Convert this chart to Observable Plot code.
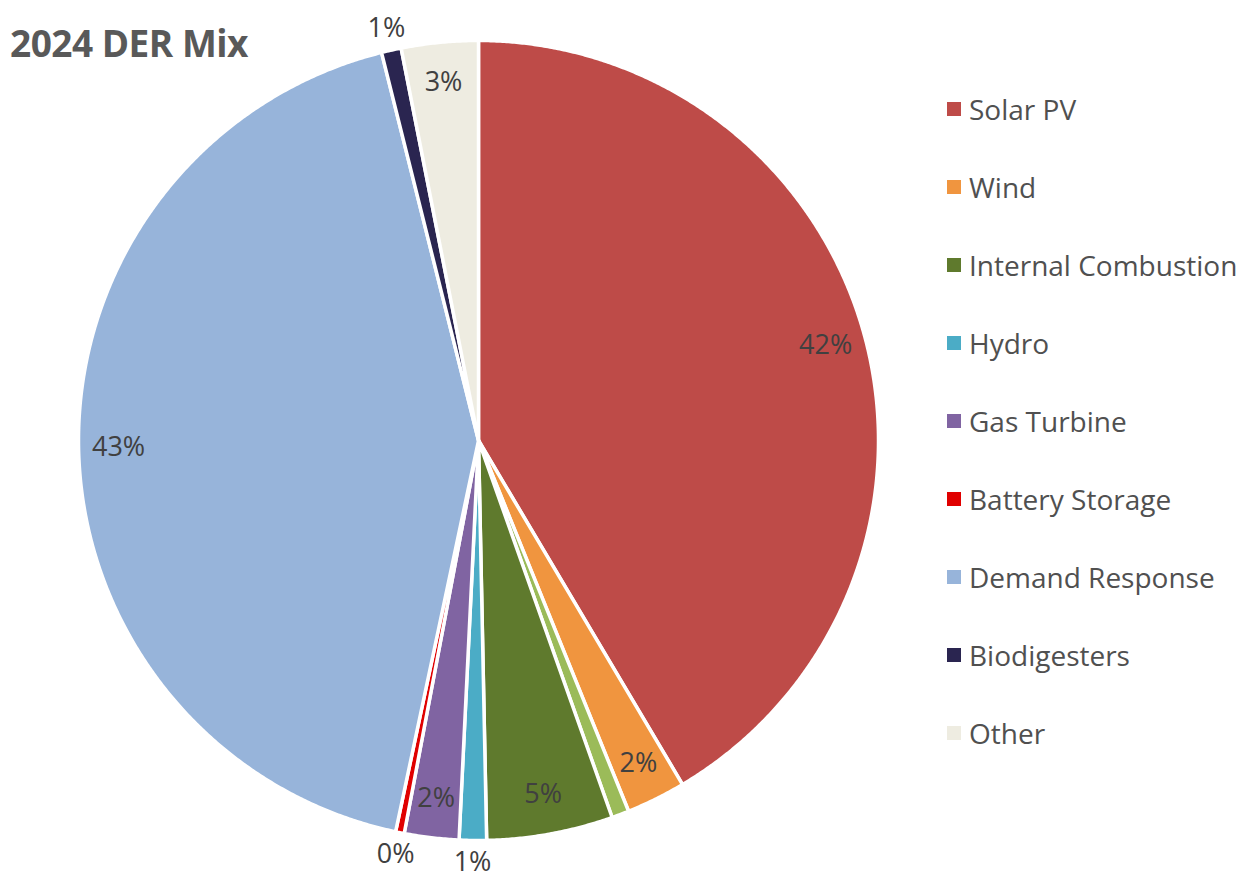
<!DOCTYPE html>
<html>
<head>
<meta charset="utf-8">
<script src="https://cdn.jsdelivr.net/npm/d3@7"></script>
<script src="https://cdn.jsdelivr.net/npm/@observablehq/plot@0.6"></script>
<style>
  html, body { margin: 0; padding: 0; background: #fff; }
  #wrap { position: relative; width: 1250px; height: 878px; overflow: hidden; font-family: "Open Sans", sans-serif; }
  #title { position: absolute; left: 10px; top: 17px; font-size: 37px; font-weight: 700; color: #595959; letter-spacing: -0.5px; }
  #legend { position: absolute; left: 940px; top: 70px; }
  .item { display: flex; align-items: center; height: 78px; font-size: 28px; color: #505050; }
  .sw { width: 14px; height: 14px; margin-right: 8px; margin-left: 7px; }
</style>
</head>
<body>
<div id="wrap">
  <div id="chart"></div>
  <div id="title">2024 DER Mix</div>
  <div id="legend"></div>
</div>
<script>
// Slices, clockwise from 12 o'clock
const categories = ["Solar PV", "Wind", "", "Internal Combustion", "Hydro", "Gas Turbine", "Battery Storage", "Demand Response", "Biodigesters", "Other"];
const shares     = [41.5, 2.4, 0.7, 5.1, 1.1, 2.2, 0.35, 42.8, 0.8, 3.1];
const labels     = ["42%", "2%", "", "5%", "1%", "2%", "0%", "43%", "1%", "3%"];
const colors     = ["#BE4B48", "#F0953F", "#9BBB59", "#5F7A2D", "#4BACC6", "#8064A2", "#E00000", "#97B4DA", "#2A2550", "#EEECE1"];
const legendItems = ["Solar PV", "Wind", "Internal Combustion", "Hydro", "Gas Turbine", "Battery Storage", "Demand Response", "Biodigesters", "Other"];

const keys = categories.map((c, i) => c === "" ? "unnamed" : c);
const pie = d3.pie().sort(null).value(d => d.v).startAngle(0).endAngle(2 * Math.PI);
const arcs = pie(shares.map((v, i) => ({v, key: keys[i], label: labels[i]})));

function slicePolygon(a) {
  const n = Math.max(4, Math.ceil((a.endAngle - a.startAngle) / 0.005));
  const ring = [[0, 0]];
  for (let k = 0; k <= n; k++) {
    const t = a.startAngle + (a.endAngle - a.startAngle) * k / n;
    ring.push([Math.sin(t), Math.cos(t)]);
  }
  ring.push([0, 0]);
  return {type: "Feature", properties: {key: a.data.key}, geometry: {type: "Polygon", coordinates: [ring]}};
}
const features = arcs.map(slicePolygon);

const labelData = arcs.filter(a => a.data.label !== "").map(a => {
  const mid = (a.startAngle + a.endAngle) / 2;
  const r = a.data.v < 1.5 ? 1.055 : 0.9;
  return {x: r * Math.sin(mid), y: r * Math.cos(mid), label: a.data.label};
});

const chart = Plot.plot({
  width: 1250,
  height: 878,
  marginLeft: 78,
  marginRight: 372,
  marginTop: 40,
  marginBottom: 38,
  projection: {type: "reflect-y", clip: false, domain: {type: "MultiPoint", coordinates: [[-1, -1], [1, 1]]}},
  color: {domain: keys, range: colors},
  style: {background: "white", overflow: "visible"},
  marks: [
    Plot.geo(features, {fill: d => d.properties.key, stroke: "white", strokeWidth: 3.5, strokeLinejoin: "round"}),
    Plot.text(labelData, {x: "x", y: "y", text: "label", fontSize: 27, fill: "#404040", fontFamily: "Open Sans"})
  ]
});
document.getElementById("chart").appendChild(chart);

const legend = document.getElementById("legend");
legendItems.forEach(name => {
  const row = document.createElement("div");
  row.className = "item";
  const sw = document.createElement("span");
  sw.className = "sw";
  sw.style.background = colors[keys.indexOf(name)];
  const t = document.createElement("span");
  t.textContent = name;
  row.appendChild(sw); row.appendChild(t);
  legend.appendChild(row);
});
</script>
</body>
</html>
